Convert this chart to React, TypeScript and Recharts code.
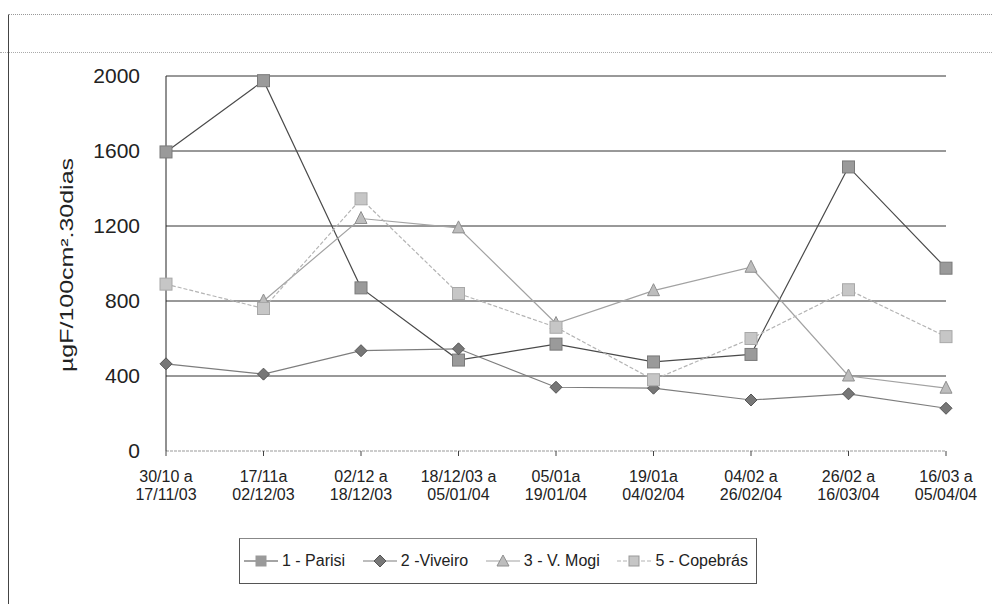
import React from "react";
import { Legend, Line, LineChart, ReferenceLine, XAxis, YAxis } from "recharts";

// períodos de coleta (linha 1 / linha 2 do rótulo)
const periodFrom = ["30/10 a", "17/11a", "02/12 a", "18/12/03 a", "05/01a", "19/01a", "04/02 a", "26/02 a", "16/03 a"];
const periodTo = ["17/11/03", "02/12/03", "18/12/03", "05/01/04", "19/01/04", "04/02/04", "26/02/04", "16/03/04", "05/04/04"];

const parisi = [1595, 1975, 870, 485, 570, 475, 515, 1515, 975];
const viveiro = [465, 410, 535, 545, 340, 335, 272, 305, 228];
const vMogi = [null, 800, 1240, 1190, 680, 855, 980, 400, 335];
const copebras = [890, 760, 1345, 840, 660, 380, 600, 860, 610];

const yTicks = [0, 400, 800, 1200, 1600, 2000];
const gridValues = [400, 800, 1200, 1600, 2000];

const data = periodFrom.map((p, i) => ({
  label: p + "\n" + periodTo[i],
  parisi: parisi[i],
  viveiro: viveiro[i],
  vMogi: vMogi[i],
  copebras: copebras[i],
}));

const FONT = "'Liberation Sans', Arial, sans-serif";

const SquareDot = (fill: string, stroke: string) => (props: any) => {
  const { cx, cy, index } = props;
  if (cx == null || cy == null) return <g key={index} />;
  return <rect key={index} x={cx - 6} y={cy - 6} width={12} height={12} fill={fill} stroke={stroke} strokeWidth={1} />;
};

const DiamondDot = (fill: string, stroke: string) => (props: any) => {
  const { cx, cy, index } = props;
  if (cx == null || cy == null) return <g key={index} />;
  return (
    <path key={index} d={`M${cx},${cy - 6}L${cx + 6},${cy}L${cx},${cy + 6}L${cx - 6},${cy}Z`} fill={fill} stroke={stroke} />
  );
};

const TriangleDot = (fill: string, stroke: string) => (props: any) => {
  const { cx, cy, index } = props;
  if (cx == null || cy == null) return <g key={index} />;
  return <path key={index} d={`M${cx},${cy - 7}L${cx + 6},${cy + 5}L${cx - 6},${cy + 5}Z`} fill={fill} stroke={stroke} />;
};

const series = [
  { key: "parisi", name: "1 - Parisi", color: "#4a4a4a", dash: undefined, dot: SquareDot("#9a9a9a", "#7a7a7a"), icon: "square", iconFill: "#9a9a9a" },
  { key: "viveiro", name: "2 -Viveiro", color: "#7d7d7d", dash: undefined, dot: DiamondDot("#777", "#555"), icon: "diamond", iconFill: "#777" },
  { key: "vMogi", name: "3 - V. Mogi", color: "#a2a2a2", dash: undefined, dot: TriangleDot("#bdbdbd", "#8f8f8f"), icon: "triangle", iconFill: "#bdbdbd" },
  { key: "copebras", name: "5 - Copebrás", color: "#b4b4b4", dash: "4 2", dot: SquareDot("#c6c6c6", "#a8a8a8"), icon: "square", iconFill: "#c6c6c6" },
];

const XTick = (props: any) => {
  const { x, y, payload } = props;
  const [a, b] = String(payload.value).split("\n");
  return (
    <text x={x} y={y} textAnchor="middle" fontFamily={FONT} fontSize={16} fill="#222">
      <tspan x={x} dy={24}>{a}</tspan>
      <tspan x={x} dy={18}>{b}</tspan>
    </text>
  );
};

const YLabel = () => (
  <text
    x={67}
    y={265}
    transform="rotate(-90 67 265)"
    textAnchor="middle"
    dominantBaseline="central"
    fontFamily={FONT}
    fontSize={18}
    fill="#222"
    textLength={214}
    lengthAdjust="spacingAndGlyphs"
  >
    µgF/100cm².30dias
  </text>
);

const LegendIcon = ({ s }: { s: (typeof series)[number] }) => (
  <svg width={34} height={16} style={{ marginRight: 4 }}>
    <line x1={0} y1={8} x2={34} y2={8} stroke={s.color} strokeWidth={1.2} strokeDasharray={s.dash} />
    {s.icon === "square" && <rect x={12} y={3} width={10} height={10} fill={s.iconFill} stroke="#999" />}
    {s.icon === "diamond" && <path d="M17,2L23,8L17,14L11,8Z" fill={s.iconFill} stroke="#555" />}
    {s.icon === "triangle" && <path d="M17,2L23,13L11,13Z" fill={s.iconFill} stroke="#8f8f8f" />}
  </svg>
);

const LegendBox = () => (
  <div
    style={{
      boxSizing: "border-box",
      width: 518,
      height: 46,
      border: "1px solid #555",
      borderTopColor: "#888",
      display: "flex",
      alignItems: "center",
      justifyContent: "space-between",
      padding: "0 8px 0 4px",
      fontFamily: FONT,
      fontSize: 16,
      color: "#222",
    }}
  >
    {series.map((s) => (
      <span key={s.key} style={{ display: "flex", alignItems: "center", whiteSpace: "nowrap" }}>
        <LegendIcon s={s} />
        {s.name}
      </span>
    ))}
  </div>
);

export default function App() {
  return (
    <div style={{ position: "absolute", left: 0, top: 0, width: 992, height: 604, background: "#fff" }}>
      {/* moldura da figura escaneada */}
      <div style={{ position: "absolute", left: 8, top: 14, width: 1, height: 590, background: "#444" }} />
      <div style={{ position: "absolute", left: 8, top: 14, width: 984, borderTop: "1px dotted #999" }} />
      <div style={{ position: "absolute", left: 0, top: 52, width: 992, borderTop: "1px dotted #aaa" }} />
      <LineChart width={992} height={604} data={data} margin={{ top: 76, right: 46, left: 66, bottom: 103 }}>
        {gridValues.map((v) => (
          <ReferenceLine key={v} y={v} stroke="#333" strokeWidth={1} ifOverflow="visible" />
        ))}
        <XAxis
          dataKey="label"
          height={50}
          interval={0}
          tick={<XTick />}
          tickSize={5}
          tickMargin={2}
          axisLine={{ stroke: "#999", strokeDasharray: "3 1" }}
          tickLine={{ stroke: "#444" }}
        />
        <YAxis
          width={100}
          domain={[0, 2000]}
          ticks={yTicks}
          tickLine={false}
          tickSize={6}
          tickMargin={20}
          axisLine={{ stroke: "#222" }}
          tick={{ fontFamily: FONT, fontSize: 21, fill: "#222" }}
          label={{ content: <YLabel /> }}
        />
        {series.map((s) => (
          <Line
            key={s.key}
            type="linear"
            dataKey={s.key}
            name={s.name}
            stroke={s.color}
            strokeWidth={1.2}
            strokeDasharray={s.dash}
            dot={s.dot}
            activeDot={false}
            isAnimationActive={false}
          />
        ))}
        <Legend
          layout="horizontal"
          align="center"
          verticalAlign="middle"
          content={<LegendBox />}
          wrapperStyle={{ position: "absolute", left: 239, top: 538, width: 518, height: 46 }}
        />
      </LineChart>
    </div>
  );
}
